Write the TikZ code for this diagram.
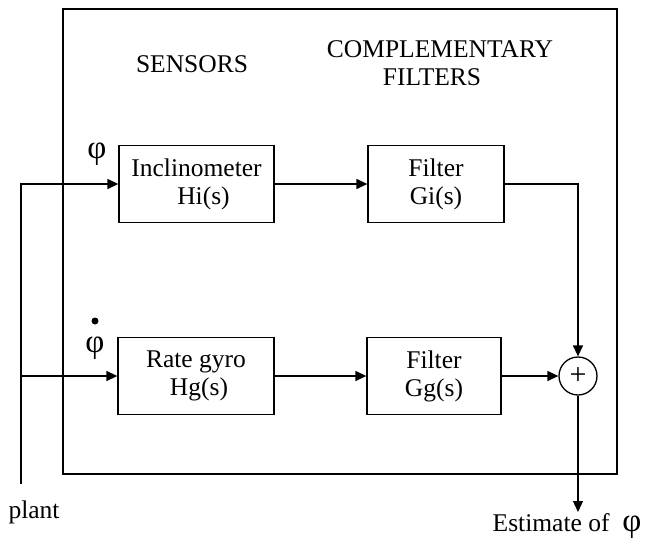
\documentclass[tikz,border=0pt]{standalone}
\usepackage{fontspec}
\setmainfont{Liberation Serif}
\usetikzlibrary{arrows.meta}
\begin{document}
\begin{tikzpicture}[x=1pt,y=-1pt,
  line width=1.3pt,
  every node/.style={font=\fontsize{25.5}{28}\selectfont},
  blockbox/.style={draw,line width=1.3pt,minimum width=#1,minimum height=77pt,align=center,inner sep=0pt},
  sumnode/.style={draw,circle,minimum size=38pt,inner sep=0pt},
  arr/.style={-{Triangle[length=11pt,width=10pt]}},
  lbl/.style={anchor=base,inner sep=0pt},
  phistyle/.style={anchor=base,inner sep=0pt,font=\fontsize{33}{33}\selectfont}]
\useasboundingbox (0,0) rectangle (649,544);
% outer frame
\draw (63,9) rectangle (617,474);
% headings
\node[lbl] (sens) at (192,72) {SENSORS};
\node[lbl] (comp) at (440,57) {COMPLEMENTARY};
\node[lbl] (filt) at (432,85) {FILTERS};
% blocks
\node[blockbox=155pt] (inc) at (196.5,184) {Inclinometer\\\hspace*{14pt}Hi(s)};
\node[blockbox=136pt] (gi) at (436,184) {Filter\\Gi(s)};
\node[blockbox=156pt] (rg) at (196,376) {Rate gyro\\\hspace*{6pt}Hg(s)};
\node[blockbox=134pt] (gg) at (434,376) {Filter\\Gg(s)};
\node[sumnode] (sum) at (578,376) {\fontsize{30}{30}\selectfont +};
% coordinates
\coordinate (pbot) at (21,484);
\coordinate (ptop) at (21,184);
\coordinate (pmid) at (21,376);
\coordinate (gicorner) at (578,184);
\coordinate (outend) at (578,512);
% connectors
\draw[arr] (pbot) -- (ptop) -- (inc.west);
\draw[arr] (pmid) -- (rg.west);
\draw[arr] (inc.east) -- (gi.west);
\draw[arr] (rg.east) -- (gg.west);
\draw[arr] (gi.east) -- (gicorner) -- (sum.north);
\draw[arr] (gg.east) -- (sum.west);
\draw[arr] (sum.south) -- (outend);
% labels
\node[phistyle] (phi1) at (97,158) {φ};
\node[phistyle] (phi2) at (95,352) {φ};
\node[circle,fill,inner sep=0pt,minimum size=7pt] (dotmark) at (95,321) {};
\node[lbl] (plant) at (34,518) {plant};
\node[lbl] (est) at (567,531) {Estimate of\ \ \fontsize{33}{33}\selectfont φ};
\end{tikzpicture}
\end{document}
